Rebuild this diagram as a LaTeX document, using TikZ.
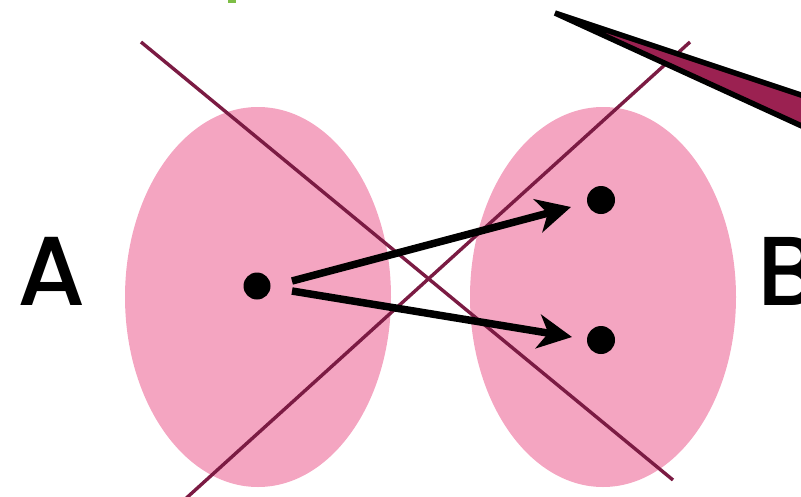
\documentclass[tikz,border=0pt]{standalone}
\usepackage{fontspec}
\setmainfont{Poppins}
\newfontfamily\labfont{Poppins}[UprightFont=* Medium]
\usetikzlibrary{arrows.meta}
\definecolor{blob}{HTML}{F4A5C1}
\definecolor{cross}{HTML}{7B1B43}
\definecolor{wedge}{HTML}{9B2151}
\definecolor{leaf}{HTML}{7DBE45}
\begin{document}
\begin{tikzpicture}[x=1pt,y=-1pt,
  setel/.style={fill=blob,draw=none},
  crossline/.style={draw=cross,line width=3.4pt},
  dot/.style={circle,fill=black,inner sep=0pt,minimum size=#1},
  maparrow/.style={line width=7.5pt,-{Stealth[length=34pt,width=34pt,inset=10pt]}},
  lab/.style={font=\labfont\fontsize{98}{98}\selectfont,inner sep=0pt,anchor=base west}]
\useasboundingbox (0,0) rectangle (801,496);
\begin{scope}
\clip (0,0) rectangle (801,496);
\fill[leaf] (228,-2) rectangle (236,3);
\fill[setel] (258,297) ellipse [x radius=133, y radius=190];
\fill[setel] (603,297) ellipse [x radius=133, y radius=190];
\coordinate (l1a) at (141,42);
\coordinate (l1b) at (673,480);
\coordinate (l2a) at (690,42);
\coordinate (l2b) at (182,502);
\draw[crossline] (l1a) -- (l1b);
\draw[crossline] (l2a) -- (l2b);
\node[dot=27pt] (a) at (257,286) {};
\node[dot=28pt] (b1) at (601,200) {};
\node[dot=28pt] (b2) at (601,340) {};
\coordinate (s1) at (292,281);
\coordinate (s2) at (292,291);
\coordinate (e1) at (571,207);
\coordinate (e2) at (572,337);
\draw[maparrow] (s1) -- (e1);
\draw[maparrow] (s2) -- (e2);
\coordinate (wt) at (555,13);
\coordinate (wu) at (900,128);
\coordinate (wl) at (900,171);
\draw[fill=wedge,draw=black,line width=5.5pt,line join=bevel] (wt) -- (wu) -- (wl) -- cycle;
\node[lab] (A) at (17,305) {A};
\node[lab] (B) at (757,305) {B};
\end{scope}
\end{tikzpicture}
\end{document}
